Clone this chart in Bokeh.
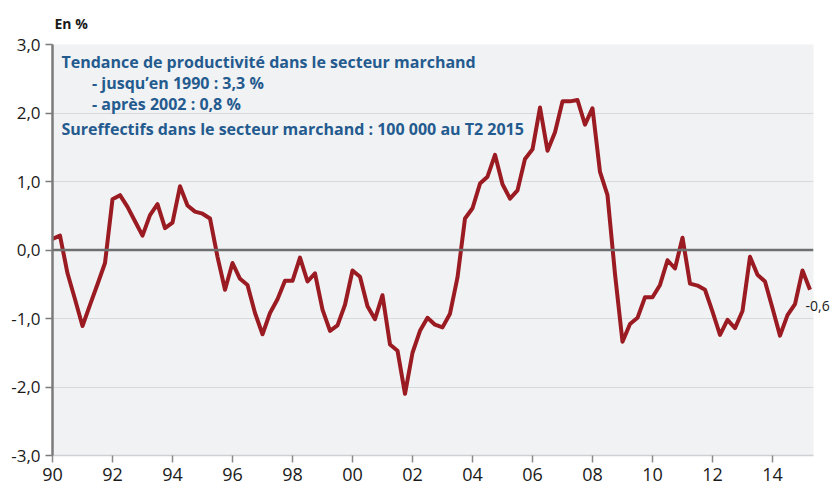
from bokeh.plotting import figure
from bokeh.models import Range1d, FixedTicker, Span, Label, LinearAxis
from bokeh.embed import file_html
from bokeh.resources import INLINE

# Quarterly series, 1990 Q1 .. 2015 Q2 (en %)
start_year = 1990
values = [
    0.16, 0.21, -0.34, -0.72, -1.11, -0.80, -0.50, -0.19,
    0.74, 0.80, 0.63, 0.42, 0.21, 0.51, 0.67, 0.32,
    0.40, 0.93, 0.65, 0.56, 0.53, 0.46, -0.10, -0.58,
    -0.19, -0.42, -0.51, -0.92, -1.23, -0.92, -0.72, -0.45,
    -0.45, -0.11, -0.46, -0.34, -0.87, -1.18, -1.10, -0.80,
    -0.30, -0.39, -0.82, -1.01, -0.66, -1.38, -1.47, -2.10,
    -1.50, -1.18, -0.99, -1.09, -1.13, -0.93, -0.40, 0.46,
    0.61, 0.97, 1.07, 1.39, 0.96, 0.75, 0.87, 1.33,
    1.47, 2.08, 1.45, 1.72, 2.17, 2.17, 2.19, 1.83,
    2.07, 1.14, 0.80, -0.35, -1.34, -1.08, -0.99, -0.69,
    -0.69, -0.51, -0.15, -0.27, 0.18, -0.49, -0.52, -0.58,
    -0.90, -1.24, -1.02, -1.14, -0.89, -0.10, -0.36, -0.46,
    -0.85, -1.25, -0.95, -0.79, -0.30, -0.58,
]
x_ticks = [1990, 1992, 1994, 1996, 1998, 2000, 2002, 2004, 2006, 2008, 2010, 2012, 2014]
x_tick_labels = ["90", "92", "94", "96", "98", "00", "02", "04", "06", "08", "10", "12", "14"]
y_ticks = [-3, -2, -1, 0, 1, 2, 3]
y_tick_labels = ["-3,0", "-2,0", "-1,0", "0,0", "1,0", "2,0", "3,0"]
unit_label = "En %"
notes = [
    "Tendance de productivité dans le secteur marchand",
    "- jusqu\u2019en 1990 : 3,3 %",
    "- après 2002 : 0,8 %",
    "Sureffectifs dans le secteur marchand : 100 000 au T2 2015",
]
last_label = "-0,6"
last_label_pos = -0.82

xs = [start_year + i * 0.25 for i in range(len(values))]

FONT = "Open Sans"
BLUE = "#245b8f"
RED = "#9b1b22"
TXT = "#1a1a1a"

W, H = 832, 487
L, R, T, B = 52, 19, 42, 32
FW, FH = W - L - R, H - T - B
X0, X1 = 1990, 1990 + FW / 30.0

p = figure(width=W, height=H, output_backend="svg", toolbar_location=None,
           x_range=Range1d(X0, X1), y_range=Range1d(-3, 3),
           min_border_left=L, min_border_right=R, min_border_top=T, min_border_bottom=B,
           background_fill_color="#f1f2f4", border_fill_color="white",
           outline_line_color=None)

# unit label as title
p.title.text = unit_label
p.title.text_font = FONT
p.title.text_font_style = "bold"
p.title.text_font_size = "14px"
p.title.text_color = TXT
p.title.align = "left"
p.title.offset = 2
p.title.standoff = 23

p.xgrid.visible = False
p.ygrid.ticker = FixedTicker(ticks=[-2, -1, 1, 2])
p.ygrid.grid_line_color = "#d8d9dc"
p.ygrid.grid_line_width = 1.2

# axes
p.yaxis.ticker = FixedTicker(ticks=y_ticks)
p.yaxis.major_label_overrides = {t: l for t, l in zip(y_ticks, y_tick_labels)}
p.yaxis.axis_line_color = "#7b7b7b"
p.yaxis.axis_line_width = 2.5
p.yaxis.major_tick_line_color = "#7b7b7b"
p.yaxis.major_tick_line_width = 1.5
p.yaxis.major_tick_out = 7
p.yaxis.major_tick_in = 0
p.yaxis.minor_tick_line_color = None
p.yaxis.major_label_text_font = FONT
p.yaxis.major_label_text_font_size = "17px"
p.yaxis.major_label_text_color = TXT
p.yaxis.major_label_standoff = 5

p.xaxis.ticker = FixedTicker(ticks=x_ticks)
p.xaxis.major_label_overrides = {t: l for t, l in zip(x_ticks, x_tick_labels)}
p.xaxis.axis_line_color = "#cfd0d3"
p.xaxis.axis_line_width = 1.5
p.xaxis.major_tick_line_color = "#8a8a8a"
p.xaxis.major_tick_line_width = 1.5
p.xaxis.major_tick_out = 7
p.xaxis.major_tick_in = 0
p.xaxis.minor_tick_line_color = None
p.xaxis.major_label_text_font = FONT
p.xaxis.major_label_text_font_size = "18px"
p.xaxis.major_label_text_color = TXT
p.xaxis.major_label_standoff = 5

# right-side label for the last value
ra = LinearAxis(ticker=FixedTicker(ticks=[last_label_pos]),
                major_label_overrides={last_label_pos: last_label},
                axis_line_color=None, major_tick_line_color=None,
                minor_tick_line_color=None, major_tick_out=0, major_tick_in=0,
                major_label_standoff=-8, major_label_text_font=FONT,
                major_label_text_font_size="14px", major_label_text_color=TXT)
p.add_layout(ra, "right")

# zero line
p.add_layout(Span(location=0, dimension="width", line_color="#6f6f6f", line_width=2.5))

# series
p.line(xs, values, line_color=RED, line_width=4, line_join="round")

def px_to_x(px):
    return X0 + (px - L) / 30.0

def py_to_y(py):
    return 3 - (py - T) / FH * 6

# notes
note_pos = [(61, 59.3), (91.5, 81.0), (91.5, 101.7), (61, 126.7)]
for (nx, ny), t in zip(note_pos, notes):
    p.add_layout(Label(x=px_to_x(nx), y=py_to_y(ny), text=t, text_font=FONT,
                       text_font_style="bold", text_font_size="16px", text_color=BLUE,
                       text_baseline="alphabetic"))

open("out.html", "w").write(file_html(p, INLINE))
